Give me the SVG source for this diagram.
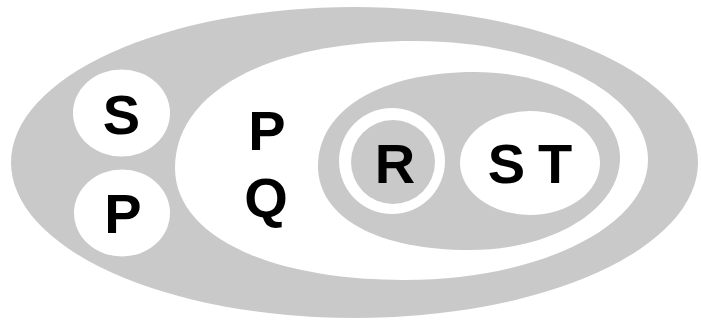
<svg xmlns="http://www.w3.org/2000/svg" width="701" height="324" viewBox="0 0 701 324">
<style>
.g{fill:#c9c9c9}
.w{fill:#ffffff}
.t{font-family:"Liberation Sans",Arial,sans-serif;font-weight:bold;font-size:56px;fill:#000;text-anchor:middle}
</style>
<rect width="701" height="324" fill="#ffffff"/>
<g id="outer"><ellipse class="g" cx="354.5" cy="162.5" rx="343.5" ry="155.5"/></g>
<g id="node-S"><ellipse class="w" cx="121.5" cy="113" rx="48.5" ry="43.5"/><text class="t" x="121.5" y="134">S</text></g>
<g id="node-P"><ellipse class="w" cx="122" cy="213" rx="48" ry="43.5"/><text class="t" x="123" y="233">P</text></g>
<g id="node-PQ"><path class="w" d="M175,168 C175,92 268,41 415,41 C544,41 648,94 648,160 C648,226 539,280 405,280 C267,280 175,235 175,168 Z"/><text class="t" x="267" y="150">P</text><text class="t" x="266" y="217">Q</text></g>
<g id="inner"><path class="g" d="M318,166 C318,110 380,72 475,72 C555,72 620,110 620,158 C620,209 553,250 470,250 C378,250 318,218 318,166 Z"/></g>
<g id="node-R"><circle class="w" cx="392" cy="161" r="53"/><circle class="g" cx="393" cy="162" r="42"/><text class="t" x="395" y="183">R</text></g>
<g id="node-ST"><ellipse class="w" cx="530" cy="163" rx="70" ry="52"/><text class="t" x="506.5" y="183">S</text><text class="t" x="555" y="183">T</text></g>
<g id="connectors"></g>
</svg>
